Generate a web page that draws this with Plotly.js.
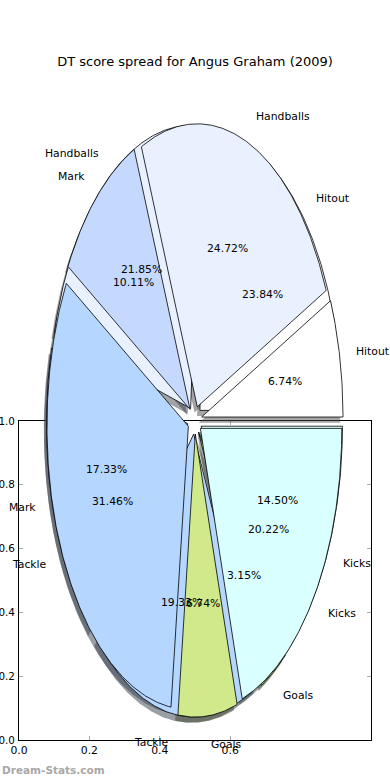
<!DOCTYPE html>
<html><head><meta charset="utf-8">
<script src="https://cdn.plot.ly/plotly-3.0.1.min.js"></script>
<style>html,body{margin:0;padding:0;background:#fff}#chart{width:390px;height:780px}</style>
</head><body><div id="chart"></div>
<script>
// ---- data ----
const categories = ['Hitout', 'Handballs', 'Mark', 'Tackle', 'Goals', 'Kicks'];
const pieAValues = [6.74, 24.72, 10.11, 31.46, 6.74, 20.22];
const pieBLabels = ['Hitout', 'Handballs', 'Mark', 'Tackle', 'Goals', 'Kicks'];
const pieBValues = [23.84, 21.85, 17.33, 19.33, 3.15, 14.50];
const sliceColors = ['#ffffff', '#e9f1ff', '#c5d9ff', '#b5d6ff', '#cfe98b', '#d9ffff'];
const xTickVals = [0, 0.2, 0.4, 0.6];
const xTickText = ['0.0', '0.2', '0.4', '0.6'];
const yTickVals = [0, 0.2, 0.4, 0.6, 0.8, 1.0];
const yTickText = ['0.0', '0.2', '0.4', '0.6', '0.8', '1.0'];
const chartTitle = 'DT score spread for Angus Graham (2009)';
const watermark = 'Dream-Stats.com';

// ---- pie geometry (matplotlib-style) ----
const EXPLODE = 0.05, LABELDIST = 1.1, PCTDIST = 0.6, SHX = -0.02, SHY = -0.02;
const FONT = 'DejaVu Sans, Liberation Sans, sans-serif';

function hexToRgb(h){h=h.replace('#','');return [parseInt(h.substr(0,2),16),parseInt(h.substr(2,2),16),parseInt(h.substr(4,2),16)];}

function buildPie(values, labels){
  const total = values.reduce((a,b)=>a+b,0);
  let t1 = 0;
  const out = [];
  values.forEach((v,i)=>{
    const frac = v/total;
    const t2 = t1 + frac;
    const thm = Math.PI*(t1+t2);
    const cx = EXPLODE*Math.cos(thm), cy = EXPLODE*Math.sin(thm);
    const xs=[cx], ys=[cy];
    const a1 = 2*Math.PI*t1, a2 = 2*Math.PI*t2;
    const n = Math.max(2, Math.ceil((a2-a1)/(Math.PI/360)));
    for(let k=0;k<=n;k++){const a=a1+(a2-a1)*k/n;xs.push(cx+Math.cos(a));ys.push(cy+Math.sin(a));}
    xs.push(cx); ys.push(cy);
    out.push({xs, ys, color: sliceColors[i],
      lx: cx+LABELDIST*Math.cos(thm), ly: cy+LABELDIST*Math.sin(thm),
      px: cx+PCTDIST*Math.cos(thm), py: cy+PCTDIST*Math.sin(thm),
      label: labels[i], pct: (100*frac).toFixed(2)+'%'});
    t1 = t2;
  });
  return out;
}

const pieA = buildPie(pieAValues, categories);
const pieB = buildPie(pieBValues, pieBLabels);

const traces = [];
// invisible anchor trace for the frame axes
traces.push({x:[0,1], y:[0,1], mode:'markers', marker:{opacity:0}, hoverinfo:'skip', showlegend:false, xaxis:'x', yaxis:'y'});
// shadows first
[pieB, pieA].forEach(p=>p.forEach(w=>{
  const c = hexToRgb(w.color).map(v=>Math.round(v*0.3));
  traces.push({x:w.xs.map(v=>v+SHX), y:w.ys.map(v=>v+SHY), mode:'lines', fill:'toself',
    fillcolor:`rgba(${c[0]},${c[1]},${c[2]},0.5)`, line:{width:0, color:'rgba(0,0,0,0)'},
    hoverinfo:'skip', showlegend:false, xaxis:'x2', yaxis:'y2'});
}));
// wedges
[pieB, pieA].forEach(p=>p.forEach(w=>{
  traces.push({x:w.xs, y:w.ys, mode:'lines', fill:'toself', fillcolor:w.color,
    line:{width:0.8, color:'#000'}, hoverinfo:'skip', showlegend:false, xaxis:'x2', yaxis:'y2'});
}));

const annotations = [];
[pieB, pieA].forEach(p=>p.forEach(w=>{
  annotations.push({xref:'x2', yref:'y2', x:w.lx, y:w.ly, text:w.label, showarrow:false,
    xanchor: w.lx>0?'left':'right', yanchor:'middle', font:{family:FONT, size:10.8, color:'#000'}});
  annotations.push({xref:'x2', yref:'y2', x:w.px, y:w.py, text:w.pct, showarrow:false,
    xanchor:'center', yanchor:'middle', font:{family:FONT, size:10.8, color:'#000'}});
}));
annotations.push({xref:'paper', yref:'paper', x:0, y:1-770/780, xanchor:'left', yanchor:'middle',
  text:'<b>'+watermark+'</b>', showarrow:false, font:{family:FONT, size:10.5, color:'#a8a8a8'}});

// pixel mapping of the pie axes: centre (194.7, 420) px, radius 141.4 px horizontally, 283 px vertically
const PCX = 194.7, PCY = 420, PRX = 141.4, PRY = 283, W = 390, H = 780;

const layout = {
  width: W, height: H, margin:{l:0, r:0, t:0, b:0},
  paper_bgcolor:'#fff', plot_bgcolor:'rgba(0,0,0,0)', showlegend:false,
  title:{text: chartTitle, x:0.5, xanchor:'center', y:1-61/780, yanchor:'middle',
    font:{family:FONT, size:13, color:'#000'}},
  xaxis:{domain:[19/W, 371/W], range:[0,1], anchor:'y', showline:true, mirror:'ticks', linecolor:'#000', linewidth:1,
    ticks:'inside', ticklen:4, tickcolor:'#aaa', tickwidth:1, tickvals:xTickVals, ticktext:xTickText,
    showgrid:false, zeroline:false, fixedrange:true, tickfont:{family:FONT, size:10.8, color:'#000'}, layer:'below traces'},
  yaxis:{domain:[40/H, 359/H], range:[0,1], anchor:'x', showline:true, mirror:'ticks', linecolor:'#000', linewidth:1,
    ticks:'inside', ticklen:4, tickcolor:'#aaa', tickwidth:1, tickvals:yTickVals, ticktext:yTickText,
    showgrid:false, zeroline:false, fixedrange:true, ticklabelstandoff:1, tickfont:{family:FONT, size:10.4, color:'#000'}, layer:'below traces'},
  xaxis2:{domain:[0,1], anchor:'y2', range:[-PCX/PRX, (W-PCX)/PRX], visible:false, fixedrange:true},
  yaxis2:{domain:[0,1], anchor:'x2', range:[-(H-PCY)/PRY, PCY/PRY], visible:false, fixedrange:true},
  annotations: annotations
};

Plotly.newPlot('chart', traces, layout, {displayModeBar:false, staticPlot:true});
</script>
</body></html>
